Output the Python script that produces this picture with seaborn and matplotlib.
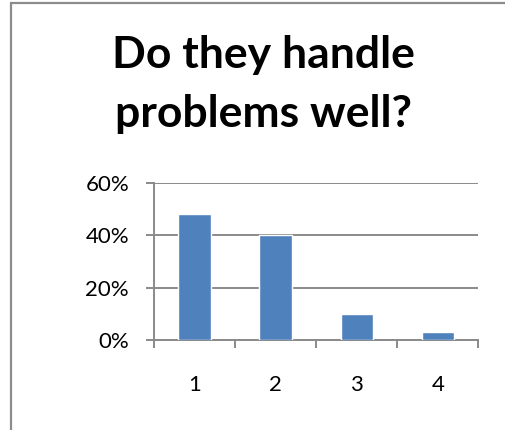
import matplotlib
matplotlib.use("Agg")
import matplotlib.pyplot as plt
from matplotlib.patches import Rectangle
from matplotlib.ticker import PercentFormatter, FixedLocator
import seaborn as sns
import pandas as pd

categories = ["1", "2", "3", "4"]
shares = [0.48, 0.40, 0.10, 0.03]
y_ticks = [0.0, 0.2, 0.4, 0.6]
title_lines = ["Do they handle", "problems well?"]

sns.set_theme(style="white")
plt.rcParams["font.family"] = ["Lato", "DejaVu Sans"]

W, H = 505, 430
fig = plt.figure(figsize=((W + 0.3) / 100, (H + 0.3) / 100), dpi=100)
fig.patch.set_facecolor("white")

# outer chart frame: a larger box whose right and bottom sides fall off the canvas
frame = "#8c8c8c"
fig.add_artist(Rectangle((11 / W, -0.2), 1.0, 1.2 - 3 / H, fill=False,
                         edgecolor=frame, lw=1.6, transform=fig.transFigure))

ax = fig.add_axes([154 / W, 1 - 340 / H, (478 - 154) / W, (340 - 183) / H])
df = pd.DataFrame({"cat": categories, "share": shares})
sns.barplot(data=df, x="cat", y="share", color="#4F81BD", width=0.4,
            saturation=1, ax=ax, zorder=3)

grey = "#8a8a8a"
ax.set_xlim(-0.5, 3.5)
ax.set_ylim(0, 0.6)
ax.yaxis.set_major_locator(FixedLocator(y_ticks))
ax.yaxis.set_major_formatter(PercentFormatter(1.0, decimals=0))
ax.grid(axis="y", color=grey, lw=1.4, zorder=0)
ax.set_axisbelow(True)

for side in ("top", "right"):
    ax.spines[side].set_visible(False)
for side in ("left", "bottom"):
    ax.spines[side].set_color(grey)
    ax.spines[side].set_linewidth(1.4)

ax.xaxis.set_minor_locator(FixedLocator([-0.5, 0.5, 1.5, 2.5, 3.5]))
ax.tick_params(axis="x", which="major", length=0, pad=25, labelsize=16,
               labelcolor="black")
ax.tick_params(axis="x", which="minor", length=6, width=1.4, color=grey,
               direction="out", bottom=True)
ax.tick_params(axis="y", length=6, width=1.4, color=grey, direction="out",
               left=True, labelsize=16, labelcolor="black", pad=12)
ax.set_xlabel("")
ax.set_ylabel("")

fig.text(263 / W, 1 - 68 / H, title_lines[0], ha="center", va="baseline",
         fontsize=32, fontweight="bold", color="black")
fig.text(263 / W, 1 - 127 / H, title_lines[1], ha="center", va="baseline",
         fontsize=32, fontweight="bold", color="black")

fig.savefig("out.png", dpi=100, facecolor="white")
